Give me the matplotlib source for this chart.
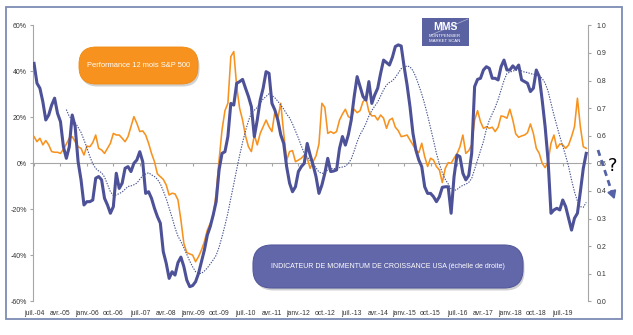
import numpy as np
import pandas as pd
import matplotlib
matplotlib.use("Agg")
import matplotlib.pyplot as plt
from matplotlib import font_manager
from matplotlib.patches import FancyBboxPatch, Rectangle


def pick_family(*names):
    available = {f.name for f in font_manager.fontManager.ttflist}
    for n in names:
        if n in available:
            return n
    return "DejaVu Sans"


NARROW = pick_family("Liberation Sans Narrow", "Liberation Sans")
IS_NARROW = NARROW == "Liberation Sans Narrow"
FS = 1.0 if IS_NARROW else 0.84  # regular width font needs smaller sizes

# Monthly series, July 2004 -> March 2020
START = "2004-07-01"

# S&P 500 trailing 12-month performance (%), left axis
SP500_PERF = [
    11.6, 9.4, 10.9, 8.0, 9.9, 8.0, 5.1, 4.8, 4.8, 4.3, 6.1, 8.4,
    10.9, 11.6, 9.4, 7.2, 6.5, 3.6, 7.5, 7.2, 9.0, 12.3, 6.5, 5.8,
    4.3, 6.5, 8.7, 13.0, 12.3, 12.3, 10.9, 9.4, 11.6, 15.9, 20.3, 17.4,
    13.8, 14.1, 12.3, 8.7, 4.3, 0.7, -4.6, -5.8, -7.0, -9.4, -13.8, -13.0,
    -13.3, -15.9, -24.6, -34.8, -38.8, -39.4, -39.9, -42.8, -40.6, -37.7, -34.1, -29.0,
    -26.1, -23.2, -13.0, 1.4, 14.5, 22.9, 26.1, 46.4, 48.6, 33.3, 23.9, 18.8,
    11.9, 7.2, 5.1, 12.3, 8.0, 13.0, 15.9, 18.8, 15.9, 13.8, 22.5, 19.6,
    26.1, 13.0, 1.4, 5.1, 5.5, 0.7, 1.4, 2.2, 3.6, 2.2, -2.2, 0.7,
    3.2, 8.4, 26.1, 24.3, 13.0, 13.8, 13.0, 13.8, 18.8, 21.4, 23.5, 20.3,
    19.6, 23.5, 22.0, 22.9, 26.8, 28.3, 22.5, 20.6, 20.7, 18.8, 21.0, 19.6,
    15.2, 18.8, 19.6, 15.7, 14.2, 11.6, 11.9, 12.3, 10.1, 8.0, 5.8, 4.6,
    8.7, 2.9, -1.4, 2.2, 1.4, -1.4, -2.9, -8.4, -2.2, 0.3, 0.0, 2.2,
    4.1, 7.2, 12.3, 4.3, 5.5, 8.0, 18.8, 22.9, 18.1, 15.2, 15.9, 15.2,
    15.7, 13.8, 15.7, 20.6, 20.3, 19.6, 23.5, 18.8, 12.8, 11.3, 11.9, 12.3,
    13.3, 17.1, 13.0, 6.5, 4.3, 0.0, -1.9, 0.7, 8.7, 12.3, 6.5, 8.4,
    8.0, 6.5, 8.0, 11.6, 15.9, 28.3, 15.9, 7.2, 6.5,
]

# US growth momentum indicator (0-1), right axis
MOMENTUM = [
    0.862, 0.790, 0.772, 0.723, 0.657, 0.675, 0.711, 0.736, 0.681, 0.651, 0.560, 0.518,
    0.560, 0.675, 0.633, 0.506, 0.440, 0.349, 0.361, 0.361, 0.367, 0.446, 0.452, 0.440,
    0.373, 0.349, 0.319, 0.343, 0.464, 0.409, 0.428, 0.482, 0.488, 0.470, 0.500, 0.512,
    0.542, 0.506, 0.391, 0.397, 0.373, 0.337, 0.307, 0.283, 0.180, 0.138, 0.083, 0.107,
    0.095, 0.140, 0.160, 0.126, 0.077, 0.053, 0.057, 0.071, 0.101, 0.144, 0.186, 0.240,
    0.271, 0.313, 0.361, 0.476, 0.536, 0.542, 0.597, 0.717, 0.711, 0.790, 0.796, 0.804,
    0.772, 0.742, 0.705, 0.597, 0.657, 0.729, 0.772, 0.832, 0.826, 0.717, 0.693, 0.657,
    0.603, 0.572, 0.488, 0.428, 0.397, 0.415, 0.470, 0.488, 0.500, 0.572, 0.530, 0.494,
    0.452, 0.391, 0.421, 0.464, 0.518, 0.470, 0.472, 0.476, 0.554, 0.597, 0.566, 0.603,
    0.657, 0.742, 0.814, 0.778, 0.742, 0.729, 0.796, 0.717, 0.748, 0.772, 0.826, 0.874,
    0.865, 0.856, 0.884, 0.923, 0.929, 0.925, 0.850, 0.784, 0.705, 0.609, 0.548, 0.512,
    0.488, 0.415, 0.391, 0.391, 0.379, 0.361, 0.379, 0.413, 0.415, 0.415, 0.319, 0.452,
    0.530, 0.524, 0.464, 0.440, 0.456, 0.536, 0.778, 0.804, 0.808, 0.838, 0.850, 0.844,
    0.808, 0.808, 0.802, 0.850, 0.874, 0.838, 0.838, 0.853, 0.841, 0.856, 0.802, 0.796,
    0.790, 0.760, 0.772, 0.838, 0.814, 0.729, 0.633, 0.512, 0.319, 0.331, 0.337, 0.331,
    0.367, 0.343, 0.301, 0.258, 0.301, 0.319, 0.397, 0.482, 0.536,
]

TICK_LABELS = [
    "juil.-04", "avr.-05", "janv.-06", "oct.-06", "juil.-07", "avr.-08", "janv.-09",
    "oct.-09", "juil.-10", "avr.-11", "janv.-12", "oct.-12", "juil.-13", "avr.-14",
    "janv.-15", "oct.-15", "juil.-16", "avr.-17", "janv.-18", "oct.-18", "juil.-19",
]
TICK_STEP = 9  # months between axis labels

LEFT_TICKS = [-60, -40, -20, 0, 20, 40, 60]
RIGHT_TICKS = [0.0, 0.1, 0.2, 0.3, 0.4, 0.5, 0.6, 0.7, 0.8, 0.9, 1.0]

ORANGE = "#F7921E"
NAVY = "#4D5197"
GRID_GREY = "#A6A6A6"
TXT = "#333333"

dates = pd.date_range(START, periods=len(MOMENTUM), freq="MS")
x = (dates.year - dates[0].year) * 12 + (dates.month - dates[0].month)
x = np.asarray(x, dtype=float)
trend = pd.Series(MOMENTUM).rolling(12).mean().to_numpy()  # 12-month moving average

W, H = 633, 335
fig = plt.figure(figsize=(W / 100, H / 100), dpi=100)
fig.patch.set_facecolor("white")

ax = fig.add_axes([33.3 / W, 1 - 301.3 / H, (588 - 33.3) / W, (301.3 - 25.3) / H])
ax.set_xlim(-0.25, len(MOMENTUM) - 0.4)
ax.set_ylim(-60, 60)
ax.plot(x, SP500_PERF, color=ORANGE, lw=1.15, zorder=3)

for side in ("top", "right"):
    ax.spines[side].set_visible(False)
ax.spines["left"].set_color(GRID_GREY)
ax.spines["bottom"].set_color(GRID_GREY)
ax.spines["bottom"].set_position(("data", 0))
ax.set_yticks(LEFT_TICKS)
ax.set_yticklabels([f"{v}%" for v in LEFT_TICKS], family=NARROW, fontsize=6 * FS, color=TXT)
ax.tick_params(axis="y", length=2.2, width=0.8, color=GRID_GREY, pad=2.5)
ax.set_xticks(np.arange(0, len(MOMENTUM), TICK_STEP))
ax.set_xticklabels([])
ax.tick_params(axis="x", length=2.5, width=0.8, color=GRID_GREY, direction="out")

labels_ax = ax.secondary_xaxis("bottom")
labels_ax.set_xticks(np.arange(len(TICK_LABELS)) * TICK_STEP)
labels_ax.set_xticklabels(TICK_LABELS, family=NARROW, fontsize=5.8 * FS, color=TXT)
labels_ax.tick_params(length=0, pad=6.4)
labels_ax.spines["bottom"].set_visible(False)

ax2 = ax.twinx()
ax2.set_ylim(0, 1)
ax2.plot(x, MOMENTUM, color=NAVY, lw=2.2, zorder=4, solid_joinstyle="round")
ax2.plot(x, trend, color="#44528F", lw=0.8, ls=(0, (1.2, 1.2)), zorder=3)
for side in ("top", "left", "bottom"):
    ax2.spines[side].set_visible(False)
ax2.spines["right"].set_color(GRID_GREY)
ax2.set_yticks(RIGHT_TICKS)
ax2.set_yticklabels([f"{v:.1f}" for v in RIGHT_TICKS], family=NARROW, fontsize=6 * FS, color=TXT)
ax2.tick_params(axis="y", length=2.2, width=0.8, color=GRID_GREY, pad=4)

# Overlay in pixel units for frame, callouts and logo
ov = fig.add_axes([0, 0, 1, 1], zorder=10)
ov.set_xlim(0, W)
ov.set_ylim(H, 0)
ov.axis("off")
ov.patch.set_alpha(0)

ov.add_patch(Rectangle((6, 7), 616, 312, fill=False, ec="#7D8BB5", lw=1.3))

# Orange callout
ov.add_patch(FancyBboxPatch((80.5, 49.5), 119, 37, boxstyle="round,pad=0,rounding_size=17",
                            fc="#9A9A9A", ec="none", alpha=0.45))
ov.add_patch(FancyBboxPatch((79, 47), 119, 37, boxstyle="round,pad=0,rounding_size=17",
                            fc=ORANGE, ec="#F08A10", lw=0.6))
ov.text(138.5, 65.5, "Performance 12 mois S&P 500", color="white", fontsize=6.4 * FS,
        family=NARROW, ha="center", va="center")

# Purple callout
ov.add_patch(FancyBboxPatch((254.5, 247.5), 270, 43, boxstyle="round,pad=0,rounding_size=19",
                            fc="#9A9A9A", ec="none", alpha=0.45))
ov.add_patch(FancyBboxPatch((253, 245), 270, 43, boxstyle="round,pad=0,rounding_size=19",
                            fc="#6267A9", ec="#555A9C", lw=0.8))
ov.text(388, 266.5, "INDICATEUR DE MOMENTUM DE CROISSANCE USA (échelle de droite)",
        color="white", fontsize=6.0 * FS, family=NARROW, ha="center", va="center")

# Logo
ov.add_patch(Rectangle((422, 18), 47, 27.5, fc="#5A62A1", ec="none"))
ov.plot([431, 468], [35, 19], color="white", lw=0.5, alpha=0.55)
ov.text(445, 27, "MMS", color="white", fontsize=7.5, fontweight="bold",
        family=NARROW, ha="center", va="center")
ov.text(445, 36.3, "MONTPENSIER", color="white", fontsize=3.2, family=NARROW,
        ha="center", va="center")
ov.text(445, 41.3, "MARKET SCAN", color="white", fontsize=3.2, family=NARROW,
        ha="center", va="center")

# Outlook arrow and question mark
ov.plot([598, 611.5], [150, 191], color="#5563A6", lw=2.0, ls=(0, (2.2, 1.6)),
        solid_capstyle="butt")
ov.annotate("", xy=(615.5, 202), xytext=(611, 189),
            arrowprops=dict(arrowstyle="-|>,head_length=0.45,head_width=0.25",
                            color="#5563A6", lw=1.5))
ov.text(612.5, 166, "?", color="black", fontsize=13, family="DejaVu Sans",
        ha="center", va="center")

fig.savefig("out.png", dpi=100, facecolor="white")
